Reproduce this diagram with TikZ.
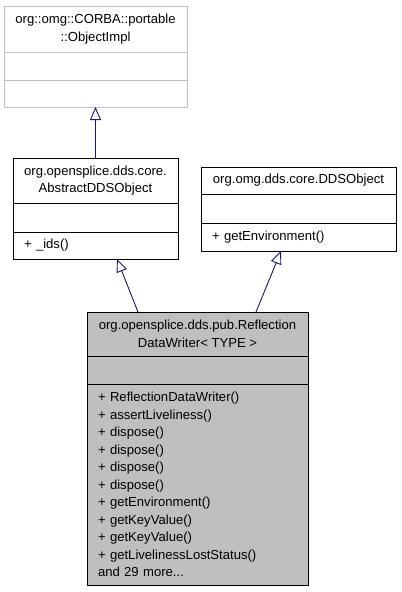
\documentclass[tikz,border=0pt]{standalone}
\usepackage{fontspec}
\setmainfont{Liberation Sans}
\usepackage{tikz}
\usetikzlibrary{arrows.meta,positioning}

\definecolor{grey75}{HTML}{BFBFBF}
\definecolor{edgeblue}{HTML}{191970}

\tikzset{
  part/.style={draw, rectangle, inner sep=0pt, outer sep=0pt, line width=0.9bp,
    font=\fontsize{13.1bp}{17.5bp}\selectfont},
  hdr/.style={part, anchor=north west, align=center},
  blank/.style={part, below=0pt of #1},
  ops/.style={part, align=left, inner xsep=11bp},
  ext/.style={draw=grey75},
  focus/.style={fill=grey75},
  inherit/.style={draw=edgeblue, line width=0.9bp,
    -{Triangle[open, length=13bp, width=11bp, fill=white]}}
}

\begin{document}
\begin{tikzpicture}[x=1bp, y=-1bp]
    \useasboundingbox (0, 0) rectangle (401, 592);

    % org::omg::CORBA::portable::ObjectImpl
    \node [hdr, ext, minimum width=183bp, minimum height=46bp] (implhdr) at (4, 6) {org::omg::CORBA::portable\\::ObjectImpl};
    \node [blank=implhdr, ext, minimum width=183bp, minimum height=28bp] (implattr) {};
    \node [ops, ext, below=0pt of implattr, minimum width=183bp, minimum height=27bp, text width=161bp] (implops) {};

    % AbstractDDSObject
    \node [hdr, minimum width=165bp, minimum height=45bp] (abshdr) at (13, 158) {org.opensplice.dds.core.\\AbstractDDSObject};
    \node [blank=abshdr, minimum width=165bp, minimum height=29bp] (absattr) {};
    \node [ops, below=0pt of absattr, minimum height=27bp, text width=143bp] (absops) {+ \_ids()};

    % DDSObject
    \node [hdr, minimum width=195bp, minimum height=27bp] (ddshdr) at (201, 167) {org.omg.dds.core.DDSObject};
    \node [blank=ddshdr, minimum width=195bp, minimum height=29bp] (ddsattr) {};
    \node [ops, below=0pt of ddsattr, minimum height=28bp, text width=173bp] (ddsops) {+ getEnvironment()};

    % ReflectionDataWriter
    \node [hdr, focus, minimum width=221bp, minimum height=44bp] (dwhdr) at (87, 312) {org.opensplice.dds.pub.Reflection\\DataWriter\textless{} TYPE \textgreater{}};
    \node [blank=dwhdr, focus, minimum width=221bp, minimum height=28bp] (dwattr) {};
    \node [ops, focus, below=0pt of dwattr, minimum height=201bp, text width=199bp] (dwops) {+ ReflectionDataWriter()\\+ assertLiveliness()\\+ dispose()\\+ dispose()\\+ dispose()\\+ dispose()\\+ getEnvironment()\\+ getKeyValue()\\+ getKeyValue()\\+ getLivelinessLostStatus()\\and 29 more...};

    \draw [inherit] (abshdr.north) -- (implops.south);
    \draw [inherit] ([xshift=51bp]dwhdr.north west) -- ([xshift=104bp]absops.south west);
    \draw [inherit] ([xshift=169bp]dwhdr.north west) -- ([xshift=80bp]ddsops.south west);
\end{tikzpicture}
\end{document}
